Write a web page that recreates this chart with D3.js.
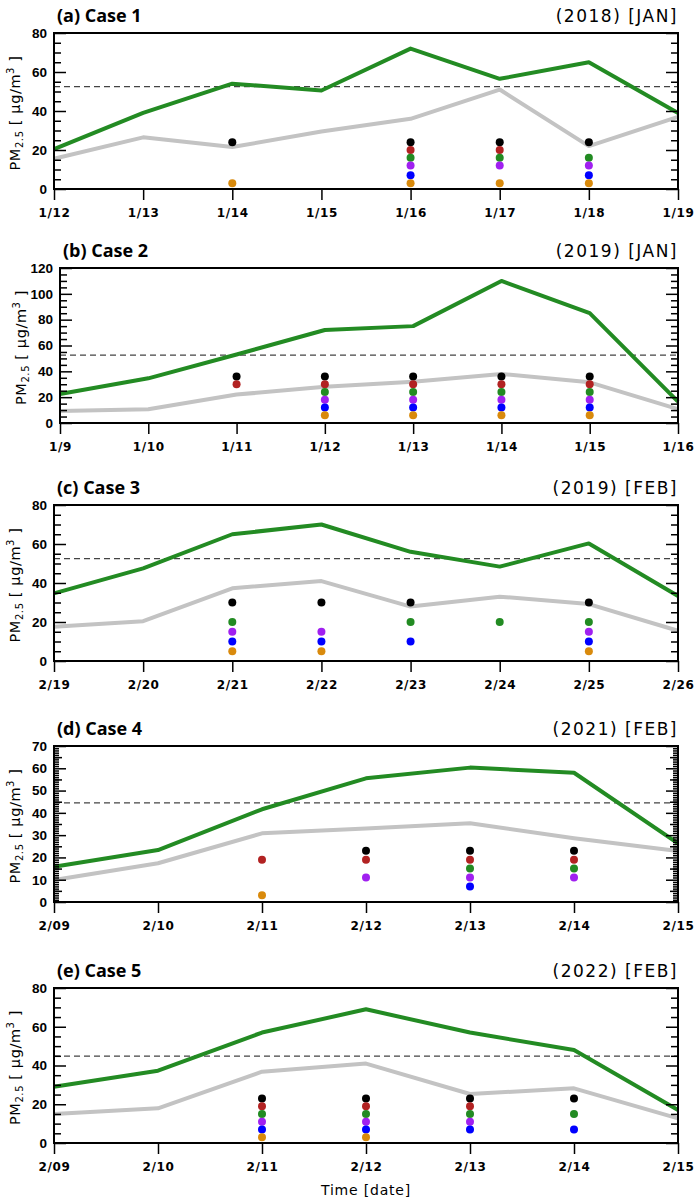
<!DOCTYPE html>
<html>
<head>
<meta charset="utf-8">
<script src="https://cdn.jsdelivr.net/npm/d3@7"></script>
<style>
html,body{margin:0;padding:0;background:#fff;}
svg{display:block;}
</style>
</head>
<body>
<script>
// ---------- DATA ----------
const caseA_dates = ["1/12","1/13","1/14","1/15","1/16","1/17","1/18","1/19"];
const caseA_obs   = [20.5, 39, 54, 50.5, 72, 56.5, 65, 39];
const caseA_model = [15.5, 26.5, 21.5, 29.5, 36, 51, 22, 37];
const caseA_black = [null,null,24,null,24,24,24,null];
const caseA_red   = [null,null,null,null,20,20,null,null];
const caseA_green = [null,null,null,null,16,16,16,null];
const caseA_purple= [null,null,null,null,12,12,12,null];
const caseA_blue  = [null,null,null,null,7,null,7,null];
const caseA_orange= [null,null,3,null,3,3,3,null];

const caseB_dates = ["1/9","1/10","1/11","1/12","1/13","1/14","1/15","1/16"];
const caseB_obs   = [22.5, 34.6, 53, 72, 75, 110, 85, 16.5];
const caseB_model = [9.3, 10.6, 22, 28, 32, 38, 31.5, 10.8];
const caseB_black = [null,null,36,36,36,36,36,null];
const caseB_red   = [null,null,30,30,30,30,30,null];
const caseB_green = [null,null,null,24,24,24,24,null];
const caseB_purple= [null,null,null,18,18,18,18,null];
const caseB_blue  = [null,null,null,12,12,12,12,null];
const caseB_orange= [null,null,null,6,6,6,6,null];

const caseC_dates = ["2/19","2/20","2/21","2/22","2/23","2/24","2/25","2/26"];
const caseC_obs   = [34.7, 47.5, 65, 70, 56, 48.4, 60.3, 33.3];
const caseC_model = [17.6, 20.4, 37.3, 41, 27.9, 33, 29.2, 15.5];
const caseC_black = [null,null,30,30,30,null,30,null];
const caseC_red   = [null,null,null,null,null,null,null,null];
const caseC_green = [null,null,20,null,20,20,20,null];
const caseC_purple= [null,null,15,15,null,null,15,null];
const caseC_blue  = [null,null,10,10,10,null,10,null];
const caseC_orange= [null,null,5,5,null,null,5,null];

const caseD_dates = ["2/09","2/10","2/11","2/12","2/13","2/14","2/15"];
const caseD_obs   = [15.8, 23.3, 41.6, 55.5, 60.3, 58, 26.3];
const caseD_model = [9.9, 17.4, 30.8, 33, 35.3, 28.6, 22.9];
const caseD_black = [null,null,null,23,23,23,null];
const caseD_red   = [null,null,19,19,19,19,null];
const caseD_green = [null,null,null,null,15,15,null];
const caseD_purple= [null,null,null,11,11,11,null];
const caseD_blue  = [null,null,null,null,7,null,null];
const caseD_orange= [null,null,3,null,null,null,null];

const caseE_dates = ["2/09","2/10","2/11","2/12","2/13","2/14","2/15"];
const caseE_obs   = [29, 37.3, 57, 69, 57, 48, 17];
const caseE_model = [15, 17.9, 36.8, 41, 25.3, 28.2, 12.7];
const caseE_black = [null,null,23,23,23,23,null];
const caseE_red   = [null,null,19,19,19,null,null];
const caseE_green = [null,null,15,15,15,15,null];
const caseE_purple= [null,null,11,11,11,null,null];
const caseE_blue  = [null,null,7,7,7,7,null];
const caseE_orange= [null,null,3,3,null,null,null];

const panelTitles  = ["(a) Case 1","(b) Case 2","(c) Case 3","(d) Case 4","(e) Case 5"];
const periodTitles = ["(2018) [JAN]","(2019) [JAN]","(2019) [FEB]","(2021) [FEB]","(2022) [FEB]"];
const thresholds   = [52.5, 52.5, 52.5, 44.5, 44.8];
const yMax         = [80, 120, 80, 70, 80];
const yMajorStep   = [20, 20, 20, 10, 20];
const yMinorStep   = [5, 5, 5, 1, 5];
const dotColorNames = ["black","red","green","purple","blue","orange"];

// ---------- STYLE / LAYOUT ----------
const W = 694, H = 1200;
const dotColors = {black:"#000000", red:"#b22222", green:"#228b22", purple:"#a020f0", blue:"#0000ff", orange:"#d98a0c"};
const layout = [
  {top:33,  bottom:189,  left:54},
  {top:268, bottom:423,  left:60},
  {top:505, bottom:661,  left:54},
  {top:746, bottom:902,  left:54},
  {top:988, bottom:1143, left:54}
];
const RIGHT = 678;

const cases = [
  {dates:caseA_dates, obs:caseA_obs, model:caseA_model, dots:{black:caseA_black,red:caseA_red,green:caseA_green,purple:caseA_purple,blue:caseA_blue,orange:caseA_orange}},
  {dates:caseB_dates, obs:caseB_obs, model:caseB_model, dots:{black:caseB_black,red:caseB_red,green:caseB_green,purple:caseB_purple,blue:caseB_blue,orange:caseB_orange}},
  {dates:caseC_dates, obs:caseC_obs, model:caseC_model, dots:{black:caseC_black,red:caseC_red,green:caseC_green,purple:caseC_purple,blue:caseC_blue,orange:caseC_orange}},
  {dates:caseD_dates, obs:caseD_obs, model:caseD_model, dots:{black:caseD_black,red:caseD_red,green:caseD_green,purple:caseD_purple,blue:caseD_blue,orange:caseD_orange}},
  {dates:caseE_dates, obs:caseE_obs, model:caseE_model, dots:{black:caseE_black,red:caseE_red,green:caseE_green,purple:caseE_purple,blue:caseE_blue,orange:caseE_orange}}
];

const svg = d3.select("body").append("svg").attr("width", W).attr("height", H);

cases.forEach((c, i) => {
  const L = layout[i];
  const g = svg.append("g");
  const x = d3.scalePoint().domain(c.dates).range([L.left, RIGHT]).padding(0);
  const y = d3.scaleLinear().domain([0, yMax[i]]).range([L.bottom, L.top]);
  const major = d3.range(0, yMax[i] + 0.001, yMajorStep[i]);
  const minor = d3.range(0, yMax[i] + 0.001, yMinorStep[i]).filter(v => Math.abs(v % yMajorStep[i]) > 1e-6);
  const medium = (i === 3) ? minor.filter(v => v % 5 === 0) : [];

  // threshold
  g.append("line")
    .attr("x1", L.left).attr("x2", RIGHT)
    .attr("y1", y(thresholds[i])).attr("y2", y(thresholds[i]))
    .attr("stroke", "#444").attr("stroke-width", 1.2).attr("stroke-dasharray", "6,4");

  const line = d3.line().x((d, k) => x(c.dates[k])).y(d => y(d));
  g.append("path").datum(c.model).attr("d", line)
    .attr("fill", "none").attr("stroke", "#c3c3c3").attr("stroke-width", 4).attr("stroke-linejoin", "round");
  g.append("path").datum(c.obs).attr("d", line)
    .attr("fill", "none").attr("stroke", "#238b23").attr("stroke-width", 4).attr("stroke-linejoin", "round");

  dotColorNames.forEach(name => {
    const vals = c.dots[name];
    g.selectAll(null).data(vals.map((v, k) => ({v, k})).filter(d => d.v != null))
      .enter().append("circle")
      .attr("cx", d => x(c.dates[d.k])).attr("cy", d => y(d.v))
      .attr("r", 4).attr("fill", dotColors[name]);
  });

  // axes
  const fontTick = "'Liberation Sans', Arial, sans-serif";
  const yAxisMajor = g.append("g").attr("transform", `translate(${L.left},0)`)
    .call(d3.axisLeft(y).tickValues(major).tickSize(-12).tickPadding(7).tickFormat(d3.format("d")));
  yAxisMajor.selectAll("text").attr("font-family", fontTick).attr("font-weight", "bold").attr("font-size", 13.5).attr("fill", "#000");
  g.append("g").attr("transform", `translate(${L.left},0)`)
    .call(d3.axisLeft(y).tickValues(minor).tickSize(i === 3 ? -5 : -7).tickFormat(""));
  if (medium.length) g.append("g").attr("transform", `translate(${L.left},0)`)
    .call(d3.axisLeft(y).tickValues(medium).tickSize(-8).tickFormat(""));
  g.append("g").attr("transform", `translate(${RIGHT},0)`)
    .call(d3.axisRight(y).tickValues(major).tickSize(-12).tickFormat(""));
  g.append("g").attr("transform", `translate(${RIGHT},0)`)
    .call(d3.axisRight(y).tickValues(minor).tickSize(i === 3 ? -5 : -7).tickFormat(""));
  if (medium.length) g.append("g").attr("transform", `translate(${RIGHT},0)`)
    .call(d3.axisRight(y).tickValues(medium).tickSize(-8).tickFormat(""));

  const xAxis = g.append("g").attr("transform", `translate(0,${L.bottom})`)
    .call(d3.axisBottom(x).tickSize(11).tickPadding(8));
  xAxis.selectAll("text").attr("font-family", "'DejaVu Sans', sans-serif").attr("font-weight", "bold").attr("font-size", 12).attr("letter-spacing", 0.6).attr("fill", "#000");

  g.selectAll(".domain").remove();
  g.selectAll(".tick line").attr("stroke", "#000").attr("stroke-width", 1.5);

  g.append("rect").attr("x", L.left).attr("y", L.top)
    .attr("width", RIGHT - L.left).attr("height", L.bottom - L.top)
    .attr("fill", "none").attr("stroke", "#000").attr("stroke-width", 2);

  // titles
  g.append("text").attr("x", L.left + 3).attr("y", L.top - 11)
    .attr("font-family", "'Open Sans', 'Noto Sans', sans-serif").attr("font-weight", "bold")
    .attr("font-size", 18).attr("fill", "#000").text(panelTitles[i]);
  g.append("text").attr("x", RIGHT).attr("y", L.top - 11).attr("text-anchor", "end")
    .attr("font-family", "'DejaVu Sans', sans-serif").attr("font-size", 17)
    .attr("letter-spacing", 1.5).attr("fill", "#000").text(periodTitles[i]);

  // y label
  const cy = (L.top + L.bottom) / 2 + 2;
  const yl = g.append("text").attr("transform", `translate(${L.left - 34},${cy}) rotate(-90)`)
    .attr("text-anchor", "middle").attr("font-family", "'DejaVu Sans', sans-serif")
    .attr("font-size", 14.5).attr("letter-spacing", 0.6).attr("fill", "#000");
  yl.append("tspan").text("PM");
  yl.append("tspan").attr("font-size", 10).attr("dy", 3).text("2.5");
  yl.append("tspan").attr("dy", -3).text("  [ μg/m");
  yl.append("tspan").attr("font-size", 10).attr("dy", -6).text("3");
  yl.append("tspan").attr("dy", 6).text(" ]");
});

svg.append("text").attr("x", 366).attr("y", 1195).attr("text-anchor", "middle")
  .attr("font-family", "'DejaVu Sans', sans-serif").attr("font-size", 14)
  .attr("letter-spacing", 0.8).attr("fill", "#000").text("Time [date]");
</script>
</body>
</html>
